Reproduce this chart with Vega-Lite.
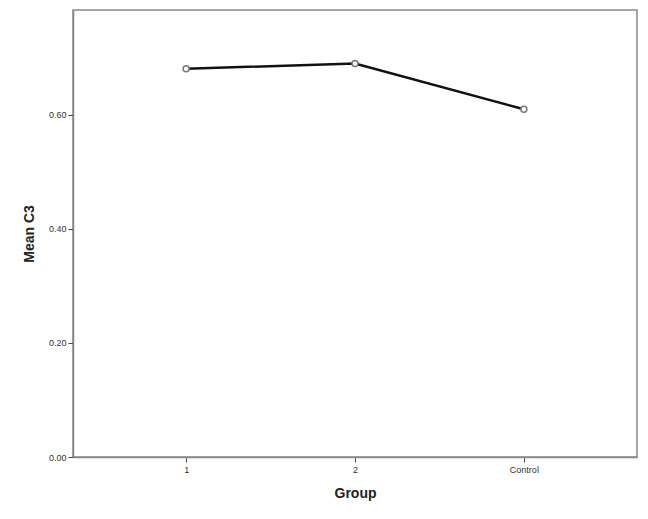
{
  "$schema": "https://vega.github.io/schema/vega-lite/v6.json",
  "width": 564,
  "height": 447,
  "autosize": {"type": "none"},
  "padding": {"left": 73, "top": 10, "right": 11, "bottom": 62},
  "background": "white",
  "config": {
    "view": {"stroke": "#888888", "strokeWidth": 1.5},
    "font": "Liberation Sans"
  },
  "data": {
    "values": [
      {"Group": "1", "MeanC3": 0.681},
      {"Group": "2", "MeanC3": 0.690},
      {"Group": "Control", "MeanC3": 0.610}
    ]
  },
  "encoding": {
    "x": {
      "field": "Group", "type": "ordinal", "sort": null,
      "scale": {"type": "point", "padding": 0.67},
      "axis": {
        "title": "Group", "labelAngle": 0, "labelFontSize": 9, "labelColor": "#333333",
        "titleFontSize": 14, "titleFontWeight": "bold", "titleColor": "#222222", "titlePadding": 12,
        "domainColor": "#888888", "domainWidth": 1.5, "tickColor": "#444444", "tickSize": 5, "labelPadding": 3
      }
    },
    "y": {
      "field": "MeanC3", "type": "quantitative",
      "scale": {"domain": [0, 0.784], "nice": false, "zero": true},
      "axis": {
        "title": "Mean C3", "values": [0, 0.2, 0.4, 0.6], "format": ".2f", "grid": false,
        "labelFontSize": 9, "labelColor": "#333333",
        "titleFontSize": 14, "titleFontWeight": "bold", "titleColor": "#222222", "titlePadding": 12,
        "domainColor": "#888888", "domainWidth": 1.5, "tickColor": "#444444", "tickSize": 5, "labelPadding": 2
      }
    }
  },
  "layer": [
    {"mark": {"type": "line", "color": "#111111", "strokeWidth": 2.5}},
    {"mark": {"type": "point", "shape": "circle", "filled": true, "fill": "white", "stroke": "#777777", "strokeWidth": 1.5, "size": 36, "opacity": 1}}
  ]
}
